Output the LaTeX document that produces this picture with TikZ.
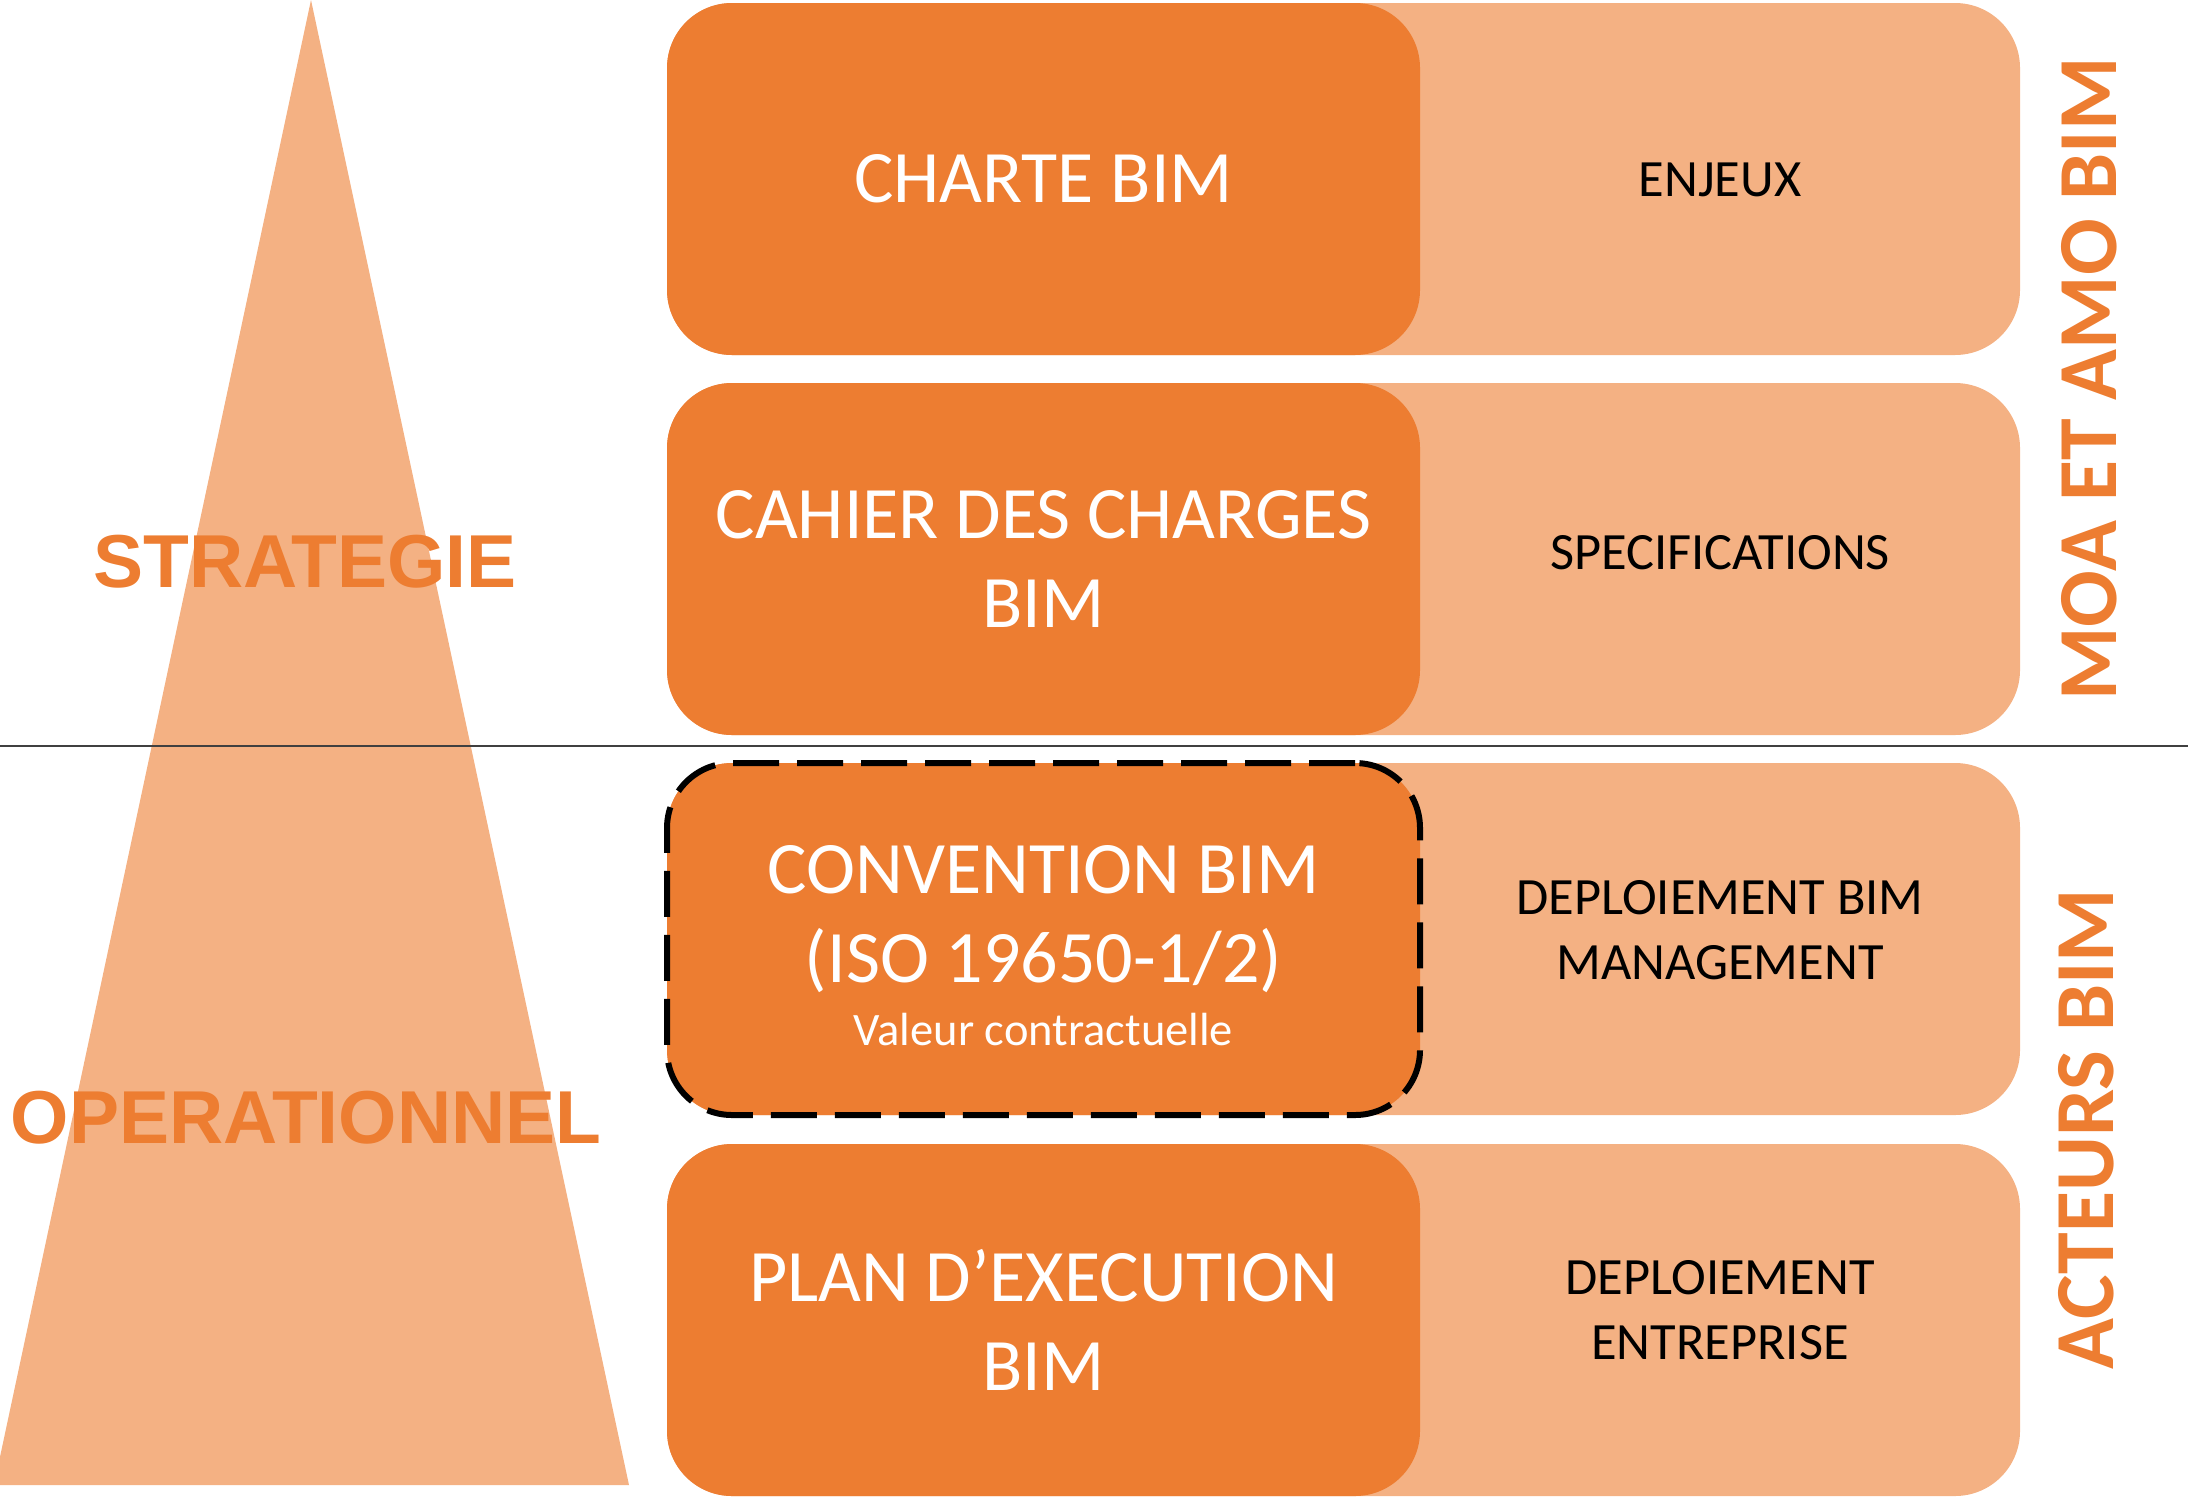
\documentclass[tikz,border=0pt]{standalone}
\usepackage{fontspec}
\setmainfont{Carlito}
\newfontfamily\headfont{Liberation Sans}
\definecolor{accent}{HTML}{ED7D31}
\definecolor{accentlight}{HTML}{F4B183}

\begin{document}
\begin{tikzpicture}[x=0.5pt,y=-0.5pt,
  lightbox/.style={fill=accentlight, rounded corners=32.5pt, minimum width=676.5pt,
    minimum height=176pt, inner sep=0pt},
  darkbox/.style={fill=accent, rounded corners=32.5pt, minimum width=376.5pt,
    minimum height=176pt, inner sep=0pt, text=white, align=center,
    font=\fontsize{37}{44.5}\selectfont},
  sidetext/.style={text=black, align=center, inner sep=0pt,
    font=\fontsize{26.2}{32.5}\selectfont},
  levellabel/.style={text=accent, inner sep=0pt,
    font=\headfont\bfseries\fontsize{37.5}{44}\selectfont},
  actorlabel/.style={text=accent, rotate=90, inner sep=0pt,
    font=\bfseries\fontsize{42}{50}\selectfont},
  contract/.style={draw=black, line width=3pt, dash pattern=on 23pt off 9pt}
]
\useasboundingbox (0,0) rectangle (2188,1500);

% pyramid of levels
\fill[accentlight] (311,0) -- (629,1485) -- (-6,1485) -- cycle;
\node[levellabel] (strat) at (305,562) {STRATEGIE};
\node[levellabel] (oper) at (306,1118) {OPERATIONNEL};

% separator between strategic and operational levels
\draw[line width=1pt, draw=black!75] (0,746) -- (2188,746);

% row 1
\node[lightbox] (bg1) at (1343.5,179) {};
\node[darkbox] (doc1) at (1043.5,179) {CHARTE BIM};
\node[sidetext] (aim1) at (1720,180) {ENJEUX};

% row 2
\node[lightbox] (bg2) at (1343.5,559) {};
\node[darkbox] (doc2) at (1043.5,559) {CAHIER DES CHARGES\\BIM};
\node[sidetext] (aim2) at (1720,553) {SPECIFICATIONS};

% row 3
\node[lightbox] (bg3) at (1343.5,939) {};
\node[darkbox, contract] (doc3) at (1043.5,939) {};
\node[text=white, align=center, inner sep=0pt, font=\fontsize{37}{44.5}\selectfont]
  (doc3txt) at (1043.5,946)
  {CONVENTION BIM\\(ISO 19650-1/2)\\[-13pt]{\fontsize{23.25}{28}\selectfont Valeur contractuelle}};
\node[sidetext] (aim3) at (1720,930) {DEPLOIEMENT BIM\\MANAGEMENT};

% row 4
\node[lightbox] (bg4) at (1343.5,1320) {};
\node[darkbox] (doc4) at (1043.5,1320) {PLAN D’EXECUTION\\BIM};
\node[sidetext] (aim4) at (1720,1310) {DEPLOIEMENT\\ENTREPRISE};

% actors
\node[actorlabel] (moa) at (2089,379) {MOA ET AMO BIM};
\node[actorlabel] (act) at (2086,1129) {ACTEURS BIM};
\end{tikzpicture}
\end{document}
